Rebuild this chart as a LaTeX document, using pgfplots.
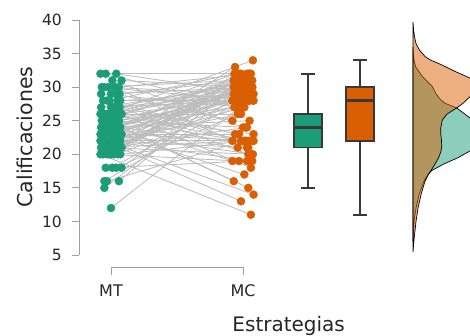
\documentclass[border=0pt]{standalone}
\usepackage{fontspec}
\setmainfont{DejaVu Sans}
\usepackage{pgfplots}
\pgfplotsset{compat=1.18}
\usepackage{pgfplotstable}
\definecolor{cMT}{HTML}{1B9E77}
\definecolor{cMC}{HTML}{D95F02}
\definecolor{spine}{HTML}{A0A0A0}
\definecolor{boxline}{HTML}{383838}
\definecolor{pairline}{HTML}{BDBDBD}

\pgfplotstableread{
x1 y1 x2 y2
0.00 12 1.04 28
-0.05 15 0.94 30
-0.05 16 1.07 29
0.06 16 0.98 31
-0.03 16 1.01 22
0.01 18 0.92 28
0.08 18 1.05 32
-0.04 18 1.03 19
0.04 18 0.96 26
-0.08 20 1.06 11
0.02 20 0.93 30
-0.06 20 1.00 29
0.07 20 1.02 22
-0.01 20 0.95 31
0.05 20 1.08 28
-0.03 20 0.97 19
0.00 20 1.045 32
0.065 21 0.985 13
-0.075 21 1.075 28
0.035 21 0.935 30
-0.07 21 1.03 22
0.03 21 0.96 29
-0.02 21 1.06 20
0.06 21 0.93 31
-0.05 21 1.00 27
0.01 21 1.02 24
0.08 21 0.95 32
-0.04 22 1.08 14
0.04 22 0.97 30
-0.08 22 1.045 29
0.02 22 0.985 28
-0.06 22 1.075 22
0.07 22 0.935 31
-0.01 22 1.04 21
0.05 22 0.94 33
-0.03 22 1.07 19
0.00 22 0.98 26
0.065 23 1.01 17
-0.075 23 0.92 28
0.035 23 1.05 30
0.01 23 0.95 29
0.08 23 1.08 22
-0.04 23 0.97 23
0.04 23 1.045 31
-0.08 23 0.985 32
0.02 23 1.075 20
-0.06 23 0.935 27
0.07 24 1.04 15
-0.01 24 0.94 29
0.05 24 1.07 30
-0.03 24 0.98 28
0.00 24 1.01 31
0.065 24 0.92 22
-0.075 24 1.05 25
0.035 24 1.03 32
-0.07 24 0.96 21
0.03 24 1.06 30
-0.02 25 0.93 16
0.06 25 1.00 28
-0.05 25 1.02 29
-0.07 25 0.98 31
0.03 25 1.01 22
-0.02 25 0.92 19
0.06 25 1.05 30
-0.05 25 1.03 24
0.01 25 0.96 27
0.08 26 1.06 18
-0.04 26 0.93 29
0.04 26 1.00 28
-0.08 26 1.02 30
0.02 26 0.95 32
-0.06 26 1.08 23
0.07 26 0.97 31
-0.01 26 1.045 22
0.05 26 0.985 26
-0.03 26 1.075 34
0.00 27 0.935 28
0.065 27 1.04 20
-0.075 27 0.94 30
0.035 27 1.07 31
0.02 27 1.045 29
-0.06 28 0.985 22
0.07 28 1.075 29
-0.01 28 0.935 32
0.05 28 1.04 28
-0.03 28 0.94 23
0.00 29 1.07 30
0.065 29 0.98 31
-0.075 29 1.01 27
0.035 29 0.92 25
-0.07 30 1.05 28
0.03 30 1.03 21
-0.02 30 0.96 29
0.06 30 1.06 32
-0.05 30 0.93 31
0.01 31 1.00 24
0.08 31 1.02 30
-0.04 32 0.95 27
0.04 32 1.08 29
-0.08 32 0.97 32
}\pairs

\pgfplotstableread{
v w
7 0
8 0.3
10 1
12 3
14 6
16 11
17 15
17.6 19
18.5 30
19.5 45
20.5 57
21.5 65
22.5 69
23.5 68
24.5 63
25.4 57
26.2 50
26.9 43.7
27.6 32
28.1 27.7
29 23
30.1 19.3
31.6 9.3
33 2.7
34 1
35 0.3
36 0
}\densMT

\pgfplotstableread{
v w
5.45 0
7 0.8
8 1.5
10 3
12 5
14 8
16 12
17 15.5
17.9 19.3
18.8 23
19.6 26
20.5 28
21.1 28.7
22 28.5
23.1 27.7
24 27.8
25.1 29.3
26 34
26.9 43.7
27.6 50
28.6 57
29.5 62
30.3 63
31.3 57.7
32.3 42.7
33 33
33.5 26
34 18
34.5 12.5
35.5 6.5
36.5 3
37.5 1.5
38.5 0.6
39.7 0
}\densMC

\begin{document}
\begin{tikzpicture}
\path[use as bounding box] (-79pt,-67.9pt) rectangle (391pt,267.1pt);
\begin{axis}[at={(0pt,0pt)}, anchor=south west, scale only axis,
  width=391pt, height=247.1pt,
  xmin=-0.2424, xmax=2.7197, ymin=3.2, ymax=40,
  hide axis, clip=false]

% y spine (trimmed) with ticks and labels
\draw[spine, line width=0.9pt] (axis cs:-0.2424,5) -- (axis cs:-0.2424,40);
\pgfplotsinvokeforeach{5,10,15,20,25,30,35,40}{
  \draw[spine, line width=0.9pt] (axis cs:-0.2424,#1) -- (axis cs:-0.2955,#1);
  \node[anchor=east, text=black!85, inner sep=0pt,
         font=\fontsize{15.5}{18}\selectfont] at (axis cs:-0.3712,#1) {#1};
}
% x spine (trimmed bracket)
\draw[spine, line width=0.9pt] (axis cs:0,2.0) -- (axis cs:0,3.2) -- (axis cs:1,3.2) -- (axis cs:1,2.0);
\node[anchor=base, text=black!85, font=\fontsize{16}{19}\selectfont] at (axis cs:0,-1.107) {MT};
\node[anchor=base, text=black!85, font=\fontsize{16}{19}\selectfont] at (axis cs:1,-1.107) {MC};
\node[anchor=base, text=black!85, font=\fontsize{20}{24}\selectfont] at (axis cs:1.346,-6.42) {Estrategias};
\node[rotate=90, text=black!85, font=\fontsize{20.5}{24}\selectfont] at (axis cs:-0.6515,22.57) {Calificaciones};

% boxplot MT (whiskers 15-32, box 21-26, median 24) at x=1.492
\addplot[boxline, line width=1.6pt] coordinates {(1.492,15) (1.492,21)};
\addplot[boxline, line width=1.6pt] coordinates {(1.492,26) (1.492,32)};
\addplot[boxline, line width=1.6pt] coordinates {(1.442,15) (1.542,15)};
\addplot[boxline, line width=1.6pt] coordinates {(1.442,32) (1.542,32)};
\addplot[draw=boxline, fill=cMT, line width=1.6pt] coordinates {(1.386,21) (1.598,21) (1.598,26) (1.386,26)} -- cycle;
\addplot[boxline, line width=3.2pt] coordinates {(1.386,24) (1.598,24)};
% boxplot MC (whiskers 11-34, box 22-30, median 28) at x=1.886
\addplot[boxline, line width=1.6pt] coordinates {(1.886,11) (1.886,22)};
\addplot[boxline, line width=1.6pt] coordinates {(1.886,30) (1.886,34)};
\addplot[boxline, line width=1.6pt] coordinates {(1.836,11) (1.936,11)};
\addplot[boxline, line width=1.6pt] coordinates {(1.836,34) (1.936,34)};
\addplot[draw=boxline, fill=cMC, line width=1.6pt] coordinates {(1.780,22) (1.992,22) (1.992,30) (1.780,30)} -- cycle;
\addplot[boxline, line width=3.2pt] coordinates {(1.780,28) (1.992,28)};

% paired lines
\addplot[pairline, line width=0.85pt, quiver={u=\thisrow{x2}-\thisrow{x1}, v=\thisrow{y2}-\thisrow{y1}}]
  table[x=x1, y=y1] {\pairs};
% points
\addplot[only marks, mark=*, mark size=4pt, mark options={draw=cMT, fill=cMT}] table[x=x1, y=y1] {\pairs};
\addplot[only marks, mark=*, mark size=4pt, mark options={draw=cMC, fill=cMC}] table[x=x2, y=y2] {\pairs};

% half densities
\addplot[draw=black, line width=0.7pt, fill=cMT, fill opacity=0.5]
  table[x expr=2.288+\thisrow{w}/132, y=v] {\densMT} -- cycle;
\addplot[draw=black, line width=0.7pt, fill=cMC, fill opacity=0.5]
  table[x expr=2.288+\thisrow{w}/132, y=v] {\densMC} -- cycle;
\end{axis}
\end{tikzpicture}
\end{document}
